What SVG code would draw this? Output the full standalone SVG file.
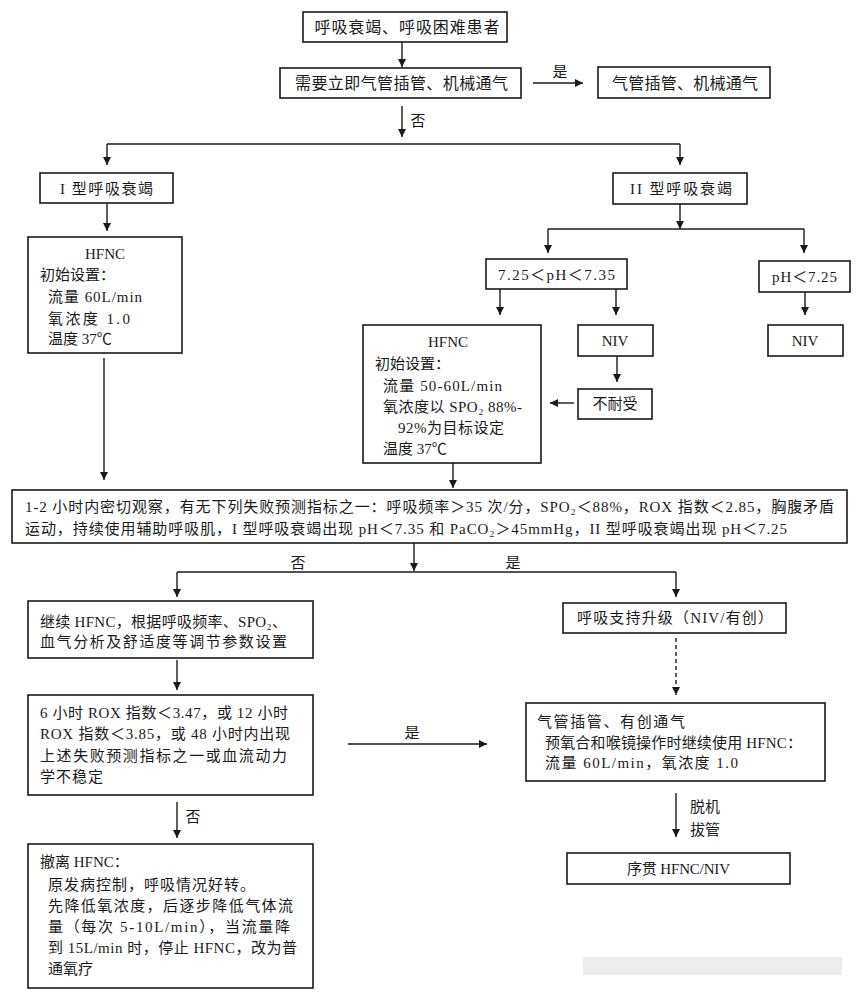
<svg xmlns="http://www.w3.org/2000/svg" width="862" height="995" viewBox="0 0 862 995">
<defs>
<marker id="ah" viewBox="0 0 10 10" refX="10" refY="5" markerWidth="9" markerHeight="8" markerUnits="userSpaceOnUse" orient="auto">
<path d="M0,0 L10,5 L0,10 Z" fill="#1a1a1a"/>
</marker>
<style>
rect.box{fill:#fff;stroke:#1a1a1a;stroke-width:1.6}
text{font-family:"Liberation Serif","Noto Sans CJK SC",serif;font-size:15px;fill:#1a1a1a}
text.big{font-size:16px}
text.c{text-anchor:middle}
.ln{fill:none;stroke:#1a1a1a;stroke-width:1.4}
.ar{fill:none;stroke:#1a1a1a;stroke-width:1.4;marker-end:url(#ah)}
.dash{stroke-dasharray:4 3}
</style>
</defs>
<rect width="862" height="995" fill="#fff"/>

<g id="connectors">
<path class="ar" d="M402,42 V67"/>
<path class="ar" d="M533,83 H583"/>
<path class="ar" d="M402,106 V137"/>
<path class="ln" d="M107,144 H680"/>
<path class="ar" d="M107,144 V165"/>
<path class="ar" d="M680,144 V165"/>
<path class="ar" d="M107,203 V231"/>
<path class="ar" d="M104,358 V480"/>
<path class="ar" d="M680,204 V229"/>
<path class="ln" d="M548,229 H804"/>
<path class="ar" d="M548,229 V253"/>
<path class="ar" d="M804,229 V253"/>
<path class="ar" d="M500,289 V315"/>
<path class="ar" d="M616,289 V315"/>
<path class="ar" d="M805,292 V315"/>
<path class="ar" d="M617,356 V382"/>
<path class="ar" d="M574,403 H550"/>
<path class="ar" d="M453,463 V488"/>
<path class="ar" d="M414,543 V571"/>
<path class="ln" d="M177,572 H676"/>
<path class="ar" d="M177,572 V597"/>
<path class="ar" d="M676,572 V597"/>
<path class="ar" d="M177,660 V690"/>
<path class="ar" d="M348,744 H487"/>
<path class="ar" d="M177,802 V838"/>
<path class="ar dash" d="M676,638 V695"/>
<path class="ar" d="M676,793 V837"/>
<text x="560" y="77" class="c">是</text>
<text x="418" y="126" class="c">否</text>
<text x="298" y="568" class="c">否</text>
<text x="513" y="568" class="c">是</text>
<text x="412" y="738" class="c">是</text>
<text x="193" y="822" class="c">否</text>
<text x="690" y="812">脱机</text>
<text x="690" y="835">拔管</text>
</g>

<g id="n1"><rect class="box" x="303" y="12" width="204" height="30"/>
<text class="big c" x="407" y="33" textLength="185" lengthAdjust="spacing">呼吸衰竭、呼吸困难患者</text></g>

<g id="n2"><rect class="box" x="280" y="68" width="241" height="30"/>
<text class="big" x="295" y="89" textLength="213" lengthAdjust="spacing">需要立即气管插管、机械通气</text></g>

<g id="n3"><rect class="box" x="598" y="67" width="172" height="31"/>
<text class="big" x="612" y="89" textLength="146" lengthAdjust="spacing">气管插管、机械通气</text></g>

<g id="n4"><rect class="box" x="40" y="173" width="133" height="30"/>
<text x="60" y="194" textLength="93" lengthAdjust="spacing">I 型呼吸衰竭</text></g>

<g id="n5"><rect class="box" x="28" y="237" width="154" height="116"/>
<text class="c" x="105" y="259">HFNC</text>
<text x="40" y="280">初始设置：</text>
<text x="48" y="302" textLength="94" lengthAdjust="spacing">流量 60L/min</text>
<text x="48" y="324" textLength="82" lengthAdjust="spacing">氧浓度  1.0</text>
<text x="48" y="344">温度 37℃</text></g>

<g id="n6"><rect class="box" x="613" y="173" width="134" height="31"/>
<text x="630" y="194" textLength="102" lengthAdjust="spacing">II 型呼吸衰竭</text></g>

<g id="n7"><rect class="box" x="486" y="259" width="141" height="30"/>
<text x="498" y="280" textLength="117" lengthAdjust="spacing">7.25＜pH＜7.35</text></g>

<g id="n8"><rect class="box" x="759" y="261" width="91" height="31"/>
<text x="772" y="282" textLength="65" lengthAdjust="spacing">pH＜7.25</text></g>

<g id="n9"><rect class="box" x="363" y="325" width="178" height="138"/>
<text class="c" x="448" y="347">HFNC</text>
<text x="375" y="369">初始设置：</text>
<text x="383" y="391" textLength="119" lengthAdjust="spacing">流量 50-60L/min</text>
<text x="383" y="412" textLength="139" lengthAdjust="spacing">氧浓度以 SPO₂ 88%-</text>
<text x="398" y="433" textLength="106" lengthAdjust="spacing">92%为目标设定</text>
<text x="383" y="454">温度 37℃</text></g>

<g id="n10"><rect class="box" x="578" y="325" width="75" height="31"/>
<text class="c" x="615" y="346">NIV</text></g>

<g id="n11"><rect class="box" x="768" y="325" width="75" height="31"/>
<text class="c" x="805" y="346">NIV</text></g>

<g id="n12"><rect class="box" x="578" y="389" width="74" height="30"/>
<text class="c" x="615" y="409">不耐受</text></g>

<g id="n13"><rect class="box" x="12" y="490" width="835" height="53"/>
<text x="25" y="512" textLength="809" lengthAdjust="spacing">1-2 小时内密切观察，有无下列失败预测指标之一：呼吸频率＞35 次/分，SPO₂＜88%，ROX 指数＜2.85，胸腹矛盾</text>
<text x="25" y="534" textLength="762" lengthAdjust="spacing">运动，持续使用辅助呼吸肌，I 型呼吸衰竭出现 pH＜7.35 和 PaCO₂＞45mmHg，II 型呼吸衰竭出现 pH＜7.25</text></g>

<g id="n14"><rect class="box" x="28" y="601" width="285" height="57"/>
<text x="40" y="627" textLength="247" lengthAdjust="spacing">继续 HFNC，根据呼吸频率、SPO₂、</text>
<text x="40" y="647" textLength="247" lengthAdjust="spacing">血气分析及舒适度等调节参数设置</text></g>

<g id="n15"><rect class="box" x="28" y="695" width="285" height="100"/>
<text x="40" y="718" textLength="248" lengthAdjust="spacing">6 小时 ROX 指数＜3.47，或 12 小时</text>
<text x="40" y="739" textLength="250" lengthAdjust="spacing">ROX 指数＜3.85，或 48 小时内出现</text>
<text x="40" y="761" textLength="247" lengthAdjust="spacing">上述失败预测指标之一或血流动力</text>
<text x="40" y="782" textLength="63" lengthAdjust="spacing">学不稳定</text></g>

<g id="n16"><rect class="box" x="28" y="844" width="285" height="144"/>
<text x="40" y="867">撤离 HFNC：</text>
<text x="48" y="890" textLength="207" lengthAdjust="spacing">原发病控制，呼吸情况好转。</text>
<text x="48" y="911" textLength="245" lengthAdjust="spacing">先降低氧浓度，后逐步降低气体流</text>
<text x="48" y="932" textLength="242" lengthAdjust="spacing">量（每次 5-10L/min），当流量降</text>
<text x="48" y="953" textLength="249" lengthAdjust="spacing">到 15L/min 时，停止 HFNC，改为普</text>
<text x="48" y="974">通氧疗</text></g>

<g id="n17"><rect class="box" x="563" y="603" width="223" height="30"/>
<text x="577" y="623" textLength="196" lengthAdjust="spacing">呼吸支持升级（NIV/有创）</text></g>

<g id="n18"><rect class="box" x="526" y="703" width="299" height="78"/>
<text x="537" y="727" textLength="148" lengthAdjust="spacing">气管插管、有创通气</text>
<text x="545" y="748" textLength="257" lengthAdjust="spacing">预氧合和喉镜操作时继续使用 HFNC：</text>
<text x="545" y="768" textLength="193" lengthAdjust="spacing">流量 60L/min，氧浓度 1.0</text></g>

<g id="n19"><rect class="box" x="567" y="853" width="223" height="31"/>
<text x="627" y="874" textLength="103" lengthAdjust="spacing">序贯 HFNC/NIV</text></g>

<rect x="583" y="957" width="259" height="18" fill="#ececec"/>
</svg>
